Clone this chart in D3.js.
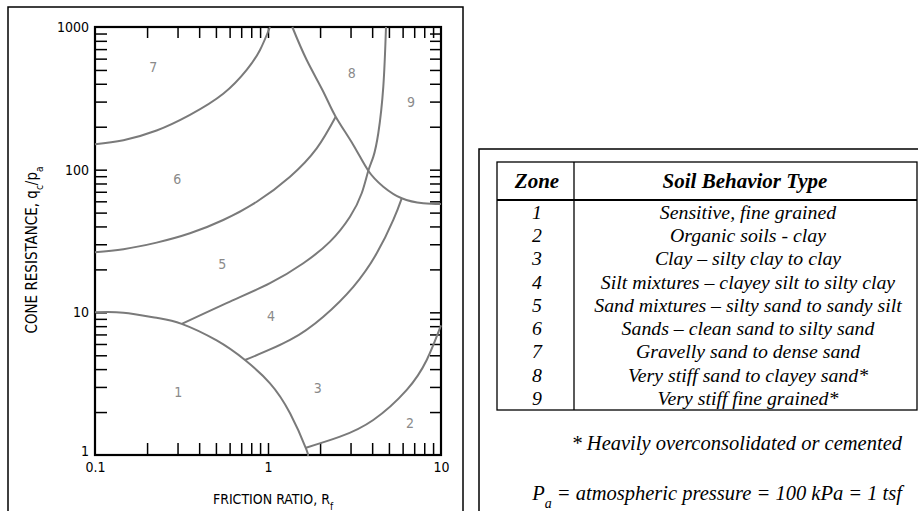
<!DOCTYPE html>
<html>
<head>
<meta charset="utf-8">
<title>Soil Behavior Type chart</title>
<script src="https://cdn.jsdelivr.net/npm/d3@7"></script>
<style>
  body { margin: 0; background: #fff; }
  .ax text { font-family: "Liberation Sans Narrow", "DejaVu Sans Condensed", sans-serif; }
</style>
</head>
<body>
<svg id="chart" width="918" height="511"></svg>
<script>
// boundary lines, each point is [friction ratio Rf, qc/pa]
var line76 = [[0.1,151],[0.146,161],[0.227,188],[0.354,242],[0.551,340],[0.753,500],[0.899,690],[1.027,1000]];
var line65 = [[0.1,26.4],[0.146,27.7],[0.227,30.8],[0.354,35.8],[0.551,44.4],[0.861,59.6],[1.341,89.3],[1.912,141],[2.462,235]];
var line8 = [[1.382,1000],[1.674,587],[2.088,352],[2.462,235],[3.112,149],[3.80,98.3],[4.64,76.0],[5.93,63.0],[7.90,58.1],[10,57.4]];
var line54 = [[0.317,8.30],[0.603,11.9],[1.027,16.0],[1.60,22.1],[2.283,31.3],[2.978,46.8],[3.48,68.3],[3.80,98.3],[4.06,123],[4.34,180],[4.64,382],[4.81,1000]];
var line43 = [[0.736,4.63],[1.341,6.40],[2.088,9.32],[3.112,15.1],[4.25,25.9],[5.30,44.4],[5.93,63.0]];
var line1 = [[0.1,10],[0.146,9.94],[0.227,9.15],[0.317,8.30],[0.505,6.35],[0.736,4.63],[1.027,3.18],[1.341,1.96],[1.659,1.11],[1.688,1]];
var line32 = [[1.659,1.125],[2.608,1.344],[4.06,1.76],[6.34,2.86],[8.27,4.63],[10,8.1]];

var zoneLabels = ["1","2","3","4","5","6","7","8","9"];
var zoneLabelAt = [[0.303,2.75],[6.62,1.68],[1.94,2.96],[1.04,9.43],[0.544,21.8],[0.299,85.6],[0.217,527],[3.05,474],[6.71,299]];

var xLabelTicks = [0.1, 1, 10];
var yLabelTicks = [1, 10, 100, 1000];

var zones = ["1","2","3","4","5","6","7","8","9"];
var soilTypes = [
  "Sensitive, fine grained",
  "Organic soils - clay",
  "Clay \u2013 silty clay to clay",
  "Silt mixtures \u2013 clayey silt to silty clay",
  "Sand mixtures \u2013 silty sand to sandy silt",
  "Sands \u2013 clean sand to silty sand",
  "Gravelly sand to dense sand",
  "Very stiff sand to clayey sand*",
  "Very stiff fine grained*"
];

var svg = d3.select("#chart");
var pL = 95, pR = 441, pT = 27, pB = 455;

var x = d3.scaleLog().domain([0.1, 10]).range([pL, pR]);
var y = d3.scaleLog().domain([1, 1000]).range([pB, pT]);

// minor ticks 2..9 in each decade (plus the inner decades)
var xMinor = [], yMinor = [];
[0.1, 1].forEach(function(d) { for (var k = 2; k <= 9; k++) xMinor.push(d * k); });
xMinor.push(1);
[1, 10, 100].forEach(function(d) { for (var k = 2; k <= 9; k++) yMinor.push(d * k); });
yMinor.push(10, 100);

// left panel frame
svg.append("rect").attr("x", 8).attr("y", 7).attr("width", 455).attr("height", 520)
  .attr("fill", "none").attr("stroke", "#000").attr("stroke-width", 1.5);

var fontAx = '"Liberation Sans Narrow", "DejaVu Sans Condensed", sans-serif';

function tickAxis(axis, transform) {
  var g = svg.append("g").attr("class", "ax").attr("transform", transform).call(axis);
  g.select(".domain").remove();
  g.selectAll(".tick line").attr("stroke", "#000").attr("stroke-width", 1.5);
  return g;
}

tickAxis(d3.axisBottom(x).tickValues(xMinor).tickSize(-12).tickFormat(""), "translate(0," + pB + ")");
tickAxis(d3.axisTop(x).tickValues(xMinor).tickSize(-11).tickFormat(""), "translate(0," + pT + ")");
tickAxis(d3.axisLeft(y).tickValues(yMinor).tickSize(-12).tickFormat(""), "translate(" + pL + ",0)");
tickAxis(d3.axisRight(y).tickValues(yMinor).tickSize(-11).tickFormat(""), "translate(" + pR + ",0)");

// decade labels
var xl = svg.append("g").attr("class", "ax").attr("transform", "translate(0," + pB + ")")
  .call(d3.axisBottom(x).tickValues(xLabelTicks).tickSize(0).tickPadding(7).tickFormat(function(d) { return String(d); }));
xl.select(".domain").remove();
xl.selectAll("text").attr("font-size", 14).attr("fill", "#000");

var yl = svg.append("g").attr("class", "ax").attr("transform", "translate(" + pL + ",0)")
  .call(d3.axisLeft(y).tickValues(yLabelTicks).tickSize(0).tickPadding(6).tickFormat(function(d) { return String(d); }));
yl.select(".domain").remove();
yl.selectAll("text").attr("font-size", 14).attr("fill", "#000")
  .attr("dy", function(d) { return d === 1 ? "0.05em" : "0.32em"; });

// frame of plot
svg.append("rect").attr("x", pL).attr("y", pT).attr("width", pR - pL).attr("height", pB - pT)
  .attr("fill", "none").attr("stroke", "#000").attr("stroke-width", 2.2);

// boundaries
var line = d3.line().x(function(d) { return x(d[0]); }).y(function(d) { return y(d[1]); })
  .curve(d3.curveNatural);
[line76, line65, line8, line54, line43, line1, line32].forEach(function(pts) {
  svg.append("path").attr("d", line(pts)).attr("fill", "none")
    .attr("stroke", "#7a7a7a").attr("stroke-width", 2);
});

svg.selectAll("text.zone").data(zoneLabelAt).enter().append("text")
  .attr("class", "zone")
  .attr("x", function(d) { return x(d[0]); })
  .attr("y", function(d) { return y(d[1]); })
  .attr("dy", "0.35em")
  .attr("text-anchor", "middle")
  .attr("font-family", fontAx).attr("font-size", 14).attr("fill", "#8a8a8a")
  .text(function(d, i) { return zoneLabels[i]; });

// axis titles
svg.append("text").attr("x", 273).attr("y", 504).attr("text-anchor", "middle")
  .attr("font-family", fontAx).attr("font-size", 14).attr("fill", "#000")
  .html('FRICTION RATIO, R<tspan baseline-shift="sub" font-size="10">f</tspan>');

svg.append("text").attr("transform", "translate(37,250) rotate(-90)").attr("text-anchor", "middle")
  .attr("font-family", fontAx).attr("font-size", 15).attr("fill", "#000")
  .html('CONE RESISTANCE, q<tspan baseline-shift="sub" font-size="10">c</tspan>/p<tspan baseline-shift="sub" font-size="10">a</tspan>');

// right panel
svg.append("path").attr("d", "M479,511V149H918").attr("fill", "none").attr("stroke", "#000").attr("stroke-width", 1.5);

var tL = 497, tR = 917, tTop = 162, tHead = 200, tBot = 410, tDiv = 574;
var serif = '"Liberation Serif", "Times New Roman", serif';
var t = svg.append("g");
t.append("rect").attr("x", tL).attr("y", tTop).attr("width", tR - tL).attr("height", tBot - tTop)
  .attr("fill", "none").attr("stroke", "#000").attr("stroke-width", 1.3);
t.append("line").attr("x1", tL).attr("x2", tR).attr("y1", tHead).attr("y2", tHead)
  .attr("stroke", "#000").attr("stroke-width", 2);
t.append("line").attr("x1", tDiv).attr("x2", tDiv).attr("y1", tTop).attr("y2", tBot)
  .attr("stroke", "#000").attr("stroke-width", 1.3);

t.append("text").attr("x", 537).attr("y", 188).attr("text-anchor", "middle")
  .attr("font-family", serif).attr("font-style", "italic").attr("font-weight", "bold")
  .attr("font-size", 21).text("Zone");
t.append("text").attr("x", 745).attr("y", 188).attr("text-anchor", "middle")
  .attr("font-family", serif).attr("font-style", "italic").attr("font-weight", "bold")
  .attr("font-size", 21).text("Soil Behavior Type");

var rowY = d3.scaleLinear().domain([0, 8]).range([212, 398]);
t.selectAll("text.zn").data(zones).enter().append("text").attr("class", "zn")
  .attr("x", 537).attr("y", function(d, i) { return rowY(i); }).attr("dy", "0.35em")
  .attr("text-anchor", "middle").attr("font-family", serif).attr("font-style", "italic")
  .attr("font-size", 19.8).text(function(d) { return d; });
t.selectAll("text.st").data(soilTypes).enter().append("text").attr("class", "st")
  .attr("x", 748).attr("y", function(d, i) { return rowY(i); }).attr("dy", "0.35em")
  .attr("text-anchor", "middle").attr("font-family", serif).attr("font-style", "italic")
  .attr("font-size", 19.8).text(function(d) { return d; });

svg.append("text").attr("x", 902).attr("y", 450).attr("text-anchor", "end")
  .attr("font-family", serif).attr("font-style", "italic").attr("font-size", 20.5)
  .text("* Heavily overconsolidated or cemented");
svg.append("text").attr("x", 902).attr("y", 500).attr("text-anchor", "end")
  .attr("font-family", serif).attr("font-style", "italic").attr("font-size", 20.5)
  .html('P<tspan baseline-shift="sub" font-size="14">a</tspan> = atmospheric pressure = 100 kPa = 1 tsf');
</script>
</body>
</html>
